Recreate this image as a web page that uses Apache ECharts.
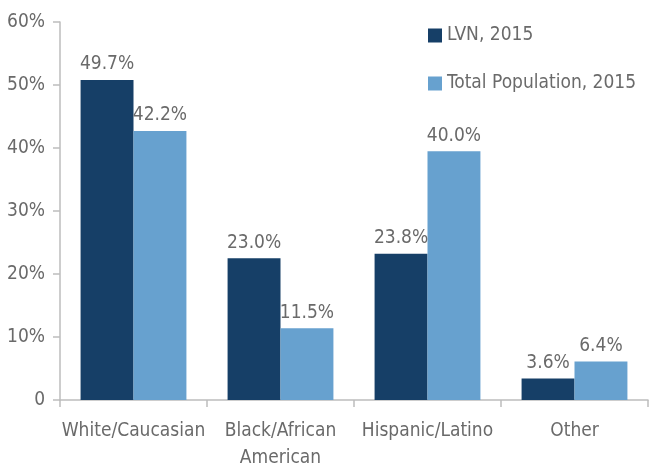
<!DOCTYPE html>
<html><head><meta charset="utf-8">
<script src="https://cdn.jsdelivr.net/npm/echarts@6/dist/echarts.min.js"></script>
<style>html,body{margin:0;padding:0;background:#fff}#c{width:649px;height:468px}</style>
</head><body><div id="c"></div>
<script>
const categories = ['White/Caucasian', 'Black/African\nAmerican', 'Hispanic/Latino', 'Other'];
const seriesNames = ['LVN, 2015', 'Total Population, 2015'];
const lvnValues = [50.8, 22.5, 23.2, 3.4];
const totalValues = [42.7, 11.4, 39.5, 6.1];
const lvnLabels = ['49.7%', '23.0%', '23.8%', '3.6%'];
const totalLabels = ['42.2%', '11.5%', '40.0%', '6.4%'];
const yTicks = [0, 10, 20, 30, 40, 50, 60];

const FONT = "'DejaVu Sans Condensed', 'Liberation Sans Narrow', sans-serif";
const TXT = '#6a6a6a';
const chart = echarts.init(document.getElementById('c'), null, {renderer: 'canvas'});
chart.setOption({
  animation: false,
  textStyle: {fontFamily: FONT},
  grid: {left: 60, right: 1, top: 22, bottom: 68, containLabel: false, outerBoundsMode: 'none'},
  legend: {
    orient: 'vertical', left: 428, top: 26, padding: 0, itemWidth: 14, itemHeight: 14, itemGap: 29,
    icon: 'rect', selectedMode: false,
    textStyle: {fontFamily: FONT, fontSize: 19, color: TXT, lineHeight: 18},
    data: seriesNames
  },
  xAxis: {
    type: 'category', data: categories,
    axisLine: {lineStyle: {color: '#bdbdbd', width: 1.5}},
    axisTick: {show: true, length: 7, lineStyle: {color: '#bdbdbd', width: 1.5}},
    axisLabel: {fontFamily: FONT, fontSize: 19, color: TXT, margin: 18, lineHeight: 27, interval: 0}
  },
  yAxis: {
    type: 'value', min: yTicks[0], max: yTicks[yTicks.length - 1], interval: 10,
    axisLine: {show: true, lineStyle: {color: '#bdbdbd', width: 1.5}},
    axisTick: {show: true, length: 7, lineStyle: {color: '#bdbdbd', width: 1.5}},
    splitLine: {show: false},
    axisLabel: {fontFamily: FONT, fontSize: 19, color: TXT, margin: 15,
      formatter: v => v === 0 ? '0' : v + '%'}
  },
  series: [
    {name: seriesNames[0], type: 'bar', data: lvnValues, barGap: '0%', barCategoryGap: '28%',
     itemStyle: {color: '#163f67'},
     label: {show: true, position: 'top', distance: 6, fontFamily: FONT, fontSize: 19, color: TXT,
       formatter: p => lvnLabels[p.dataIndex]}},
    {name: seriesNames[1], type: 'bar', data: totalValues, barGap: '0%', barCategoryGap: '28%',
     itemStyle: {color: '#67a1cf'},
     label: {show: true, position: 'top', distance: 6, fontFamily: FONT, fontSize: 19, color: TXT,
       formatter: p => totalLabels[p.dataIndex]}}
  ]
});
</script></body></html>
